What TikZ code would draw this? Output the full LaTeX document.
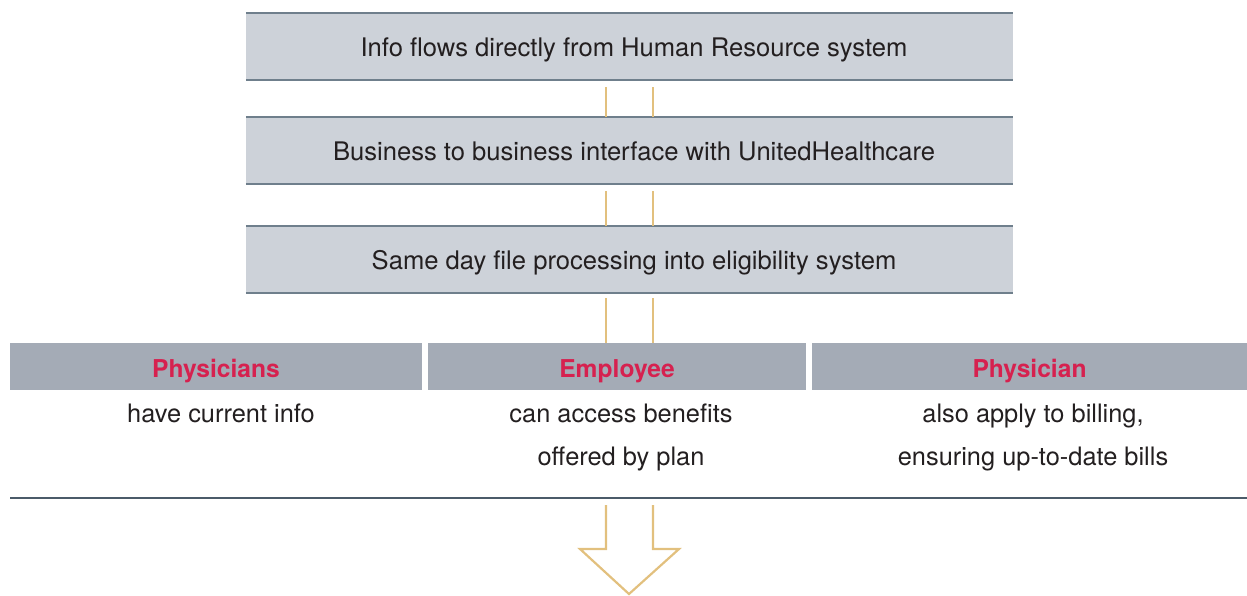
\documentclass[tikz,border=0pt]{standalone}
\usepackage{fontspec}
\setmainfont{TeX Gyre Heros}
\definecolor{boxfill}{HTML}{CDD2D9}
\definecolor{boxline}{HTML}{6F7F8C}
\definecolor{headfill}{HTML}{A4ABB6}
\definecolor{headred}{HTML}{D6214F}
\definecolor{gold}{HTML}{E2C07E}
\definecolor{baseline}{HTML}{4B5B69}
\definecolor{txt}{HTML}{231F20}
\begin{document}
\begin{tikzpicture}[x=1pt,y=-1pt,
  flowbox/.style={fill=boxfill,minimum width=767pt,minimum height=67pt,inner sep=0pt,text=txt,text height=23.5pt,text depth=4pt,font=\fontsize{25.6}{30}\selectfont,execute at begin node={\hspace*{9pt}}},
  headbar/.style={fill=headfill,minimum height=47pt,inner sep=0pt,text=headred,text height=24pt,text depth=2pt,font=\fontsize{24.6}{30}\selectfont\bfseries},
  bodytext/.style={align=center,text=txt,inner sep=0pt,font=\fontsize{25.4}{43}\selectfont},
  goldline/.style={draw=gold,line width=2.2pt},
  edge/.style={draw=boxline,line width=2pt}]
\useasboundingbox (0,0) rectangle (1247,596);
\node[flowbox] (b1) at (629.5,46.5) {Info flows directly from Human Resource system};
\node[flowbox] (b2) at (629.5,150.5) {Business to business interface with UnitedHealthcare};
\node[flowbox] (b3) at (629.5,259.5) {Same day file processing into eligibility system};
\foreach \b in {b1,b2,b3}{
  \draw[edge] (\b.north west) -- (\b.north east);
  \draw[edge] (\b.south west) -- (\b.south east);
}
\node[headbar,minimum width=412pt] (h1) at (216,366.5) {Physicians};
\node[headbar,minimum width=378pt] (h2) at (617,366.5) {Employee};
\node[headbar,minimum width=435pt] (h3) at (1029.5,366.5) {Physician};
\node[bodytext,anchor=north] (t1) at ([xshift=5pt,yshift=-14pt]h1.south) {have current info};
\node[bodytext,anchor=north] (t2) at ([xshift=4pt,yshift=-14pt]h2.south) {can access benefits\\offered by plan};
\node[bodytext,anchor=north] (t3) at ([xshift=3.5pt,yshift=-14pt]h3.south) {also apply to billing,\\ensuring up-to-date bills};
\foreach \x in {606,653}{
  \draw[goldline] ([yshift=-7pt]b1.south -| \x,0) -- (b2.north -| \x,0);
  \draw[goldline] ([yshift=-7pt]b2.south -| \x,0) -- (b3.north -| \x,0);
  \draw[goldline] ([yshift=-5pt]b3.south -| \x,0) -- (h2.north -| \x,0);
}
\coordinate (bl) at (10,498);
\coordinate (br) at (1247,498);
\draw[draw=baseline,line width=1.5pt] (bl) -- (br);
\coordinate (s1) at (606,505);
\coordinate (s2) at (653,505);
\draw[goldline,line join=miter] (s1) -- (606,549) -- (580,549) -- (629,594) -- (679,549) -- (653,549) -- (s2);
\end{tikzpicture}
\end{document}
